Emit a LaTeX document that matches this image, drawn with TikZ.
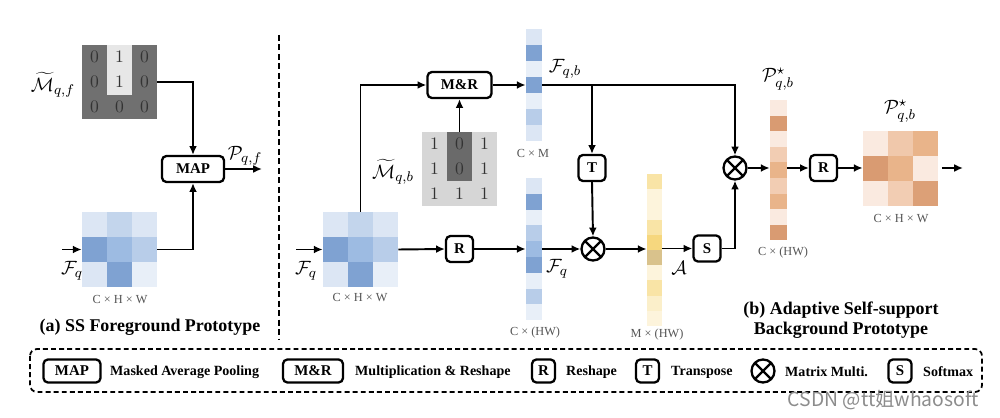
\documentclass[tikz,border=0pt]{standalone}
\usepackage{fontspec}
\setmainfont{Liberation Serif}
\newfontfamily\cjkfont{Noto Sans CJK SC}
\usetikzlibrary{arrows.meta,calc}
\definecolor{bluea}{HTML}{DCE6F4}
\definecolor{blueb}{HTML}{C3D5EC}
\definecolor{bluec}{HTML}{7FA2D2}
\definecolor{blued}{HTML}{9DBBE2}
\definecolor{bluee}{HTML}{B8CDE9}
\definecolor{bluef}{HTML}{E8EFF8}
\definecolor{yela}{HTML}{FDF4DC}
\definecolor{yelb}{HTML}{F9E4A6}
\definecolor{yelc}{HTML}{F6D77E}
\definecolor{yeld}{HTML}{D9C28C}
\definecolor{orga}{HTML}{FAEAE0}
\definecolor{orgb}{HTML}{F2CDB3}
\definecolor{orgc}{HTML}{E9B48A}
\definecolor{orgd}{HTML}{D99B72}
\definecolor{maskdark}{HTML}{707070}
\definecolor{masklight}{HTML}{D6D6D6}
\definecolor{dimtext}{HTML}{555555}
\begin{document}
\begin{tikzpicture}[x=0.02cm,y=-0.02cm]
			\tikzstyle{wire}=[line width=1.1pt]
			\tikzstyle{arr}=[line width=1.1pt,-{Latex[length=5pt,width=4.5pt]}]
			\tikzstyle{op}=[draw,line width=1.3pt,rounded corners=2.5pt,inner sep=1pt,minimum height=5.2mm,font=\bfseries\fontsize{8.5}{9}\selectfont]
			\tikzstyle{small op}=[op,minimum width=5.4mm]
			\tikzstyle{mult}=[circle,draw,line width=1.3pt,minimum size=4.6mm,inner sep=0pt,path picture={\draw[line width=1.3pt] (path picture bounding box.north west) -- (path picture bounding box.south east) (path picture bounding box.north east) -- (path picture bounding box.south west);}]
			\tikzstyle{block}=[inner sep=0pt]
			\tikzstyle{digit}=[text=black!80,font=\fontsize{10}{10}\selectfont]
			\tikzstyle{sym}=[font=\fontsize{11}{12}\selectfont]
			\tikzstyle{dim}=[text=dimtext,font=\fontsize{7}{8}\selectfont]
			\tikzstyle{title}=[align=center,font=\bfseries\fontsize{10.2}{11.5}\selectfont]
			\tikzstyle{legend text}=[anchor=west,font=\bfseries\fontsize{8}{9}\selectfont]
			\useasboundingbox (0,0) rectangle (1000,418);
			
			% (a) foreground prototype
			\fill[maskdark] (82,45) rectangle ++(75,74);
			\fill[masklight!60!white] (107,45) rectangle ++(25,50);
			\foreach \v [count=\i from 0] in {0,1,0,0,1,0,0,0,0}
				\node[digit] (mf\i) at ({94.5+25*mod(\i,3)},{57+24.7*int(\i/3)}) {$\v$};
			\node[block,minimum width=15mm,minimum height=14.8mm] (mqf) at (119.5,82) {};
			\node[sym] (lmqf) at (53,85) {$\widetilde{\mathcal{M}}_{q,f}$};
			\foreach \c [count=\i from 0] in {bluea,blueb,bluea,bluec,blued,bluee,bluea,bluec,bluef}
				\fill[\c] ({82+25*mod(\i,3)},{212+25*int(\i/3)}) rectangle ++(25,25);
			\node[block,minimum size=15mm] (fqa) at (119.5,249.5) {};
			\node[sym] (lfqa) at (72,271) {$\mathcal{F}_q$};
			\node[dim] (dfqa) at (120,300) {C × H × W};
			\node[op,minimum width=12.4mm] (map) at (193,169) {MAP};
			\coordinate (ina) at (62,249.5);
			\coordinate (outa) at (262,169);
			\node[sym] (lpqf) at (245,156) {$\mathcal{P}_{q,f}$};
			\draw[arr] (ina) -- (fqa.west);
			\draw[arr] (mqf.east) -| (map.north);
			\draw[arr] (fqa.east) -| (map.south);
			\draw[arr] (map.east) -- (outa);
			\node[title] (ta) at (150,327) {(a) SS Foreground Prototype};
			
			\draw[line width=1.6pt,dash pattern=on 3.4pt off 2pt] (279,35) -- (279,340);
			
			% (b) background prototype
			\foreach \c [count=\i from 0] in {bluea,blueb,bluea,bluec,blued,bluee,bluea,bluec,bluef}
				\fill[\c] ({323+25*mod(\i,3)},{212+25*int(\i/3)}) rectangle ++(25,25);
			\node[block,minimum size=15mm] (fqb) at (360.5,249.5) {};
			\node[sym] (lfqb) at (306,271) {$\mathcal{F}_q$};
			\node[dim] (dfqb) at (360,298) {C × H × W};
			\coordinate (inb) at (296,249.5);
			\fill[masklight] (422,132) rectangle ++(75,74);
			\fill[maskdark!95!black] (447,132) rectangle ++(25,49);
			\foreach \v [count=\i from 0] in {1,0,1,1,0,1,1,1,1}
				\node[digit] (mb\i) at ({434.5+25*mod(\i,3)},{144+24.7*int(\i/3)}) {$\v$};
			\node[block,minimum width=15mm,minimum height=14.8mm] (mqb) at (459.5,169) {};
			\node[sym] (lmqb) at (393,172) {$\widetilde{\mathcal{M}}_{q,b}$};
			\node[op,minimum width=12.8mm] (mr) at (459.5,85) {M\&R};
			\foreach \c [count=\i from 0] in {bluea,bluec,bluef,bluec,bluef,bluee,bluea}
				\fill[\c] (526,{29+16*\i}) rectangle ++(16,16);
			\node[block,minimum width=3.2mm,minimum height=22.4mm] (fbcol) at (534,85) {};
			\node[sym] (lfbcol) at (565,69) {$\mathcal{F}_{q,b}$};
			\node[dim] (dfbcol) at (533,153) {C × M};
			\node[small op] (ra) at (459.5,249) {R};
			\foreach \c [count=\i from 0] in {bluea,bluec,bluef,bluee,blued,bluec,bluef,bluee,bluef}
				\fill[\c] (526,{178+15.8*\i}) rectangle ++(16,15.8);
			\node[block,minimum width=3.2mm,minimum height=28.4mm] (fqcol) at (534,249.1) {};
			\node[sym] (lfqcol) at (557,269) {$\mathcal{F}_q$};
			\node[dim] (dfqcol) at (535,333) {C × (HW)};
			\node[small op] (tr) at (592,168) {T};
			\node[mult] (mula) at (593,249) {};
			\foreach \c [count=\i from 0] in {yelb,yela,yela,yelb,yelc,yeld,yela,yelb,yelb!60!white,yela}
				\fill[\c] (647,{174+15.2*\i}) rectangle ++(15,15.2);
			\node[block,minimum width=3mm,minimum height=30.4mm] (acol) at (654.5,250) {};
			\node[sym] (lacol) at (679,268) {$\mathcal{A}$};
			\node[dim] (dacol) at (657,335) {M × (HW)};
			\node[small op] (sm) at (707,248.5) {S};
			\node[mult] (mulb) at (735,168) {};
			\foreach \c [count=\i from 0] in {orga,orgd,orga,orgb,orgc,orgb,orgc,orga,orgd}
				\fill[\c] (770,{100+15.6*\i}) rectangle ++(17,15.6);
			\node[block,minimum width=3.4mm,minimum height=28mm] (pcol) at (778.5,170) {};
			\node[sym] (lpcol) at (778,79) {$\mathcal{P}^{\star}_{q,b}$};
			\node[dim] (dpcol) at (783,253) {C × (HW)};
			\node[small op] (rb) at (823.5,168) {R};
			\foreach \c [count=\i from 0] in {orga,orgb!80!orgc,orgc,orgd,orgc,orga,orga,orgb,orgd!80!orgc}
				\fill[\c] ({863+25*mod(\i,3)},{131+25*int(\i/3)}) rectangle ++(25,25);
			\node[block,minimum size=15mm] (pgrid) at (900.5,168.5) {};
			\node[sym] (lpgrid) at (900,111) {$\mathcal{P}^{\star}_{q,b}$};
			\node[dim] (dpgrid) at (901,219) {C × H × W};
			\coordinate (outb) at (963,168);
			\coordinate (split) at (tr |- fbcol.east);
			\draw[arr] (inb) -- (fqb.west);
			\draw[arr] (fqb.north) |- (mr.west);
			\draw[arr] (mqb.north) -- (mr.south);
			\draw[arr] (mr.east) -- (fbcol.west);
			\draw[arr] (fbcol.east) -| (mulb.north);
			\draw[arr] (split) -- (tr.north);
			\draw[arr] (fqb.east) -- (ra.west);
			\draw[arr] (ra.east) -- (ra.east -| fqcol.west);
			\draw[arr] (fqcol.east |- mula.west) -- (mula.west);
			\draw[arr] (tr.south) -- (mula.north);
			\draw[arr] (mula.east) -- (mula.east -| acol.west);
			\draw[arr] (acol.east |- sm.west) -- (sm.west);
			\draw[arr] (sm.east) -| (mulb.south);
			\draw[arr] (mulb.east) -- (mulb.east -| pcol.west);
			\draw[arr] (pcol.east |- rb.west) -- (rb.west);
			\draw[arr] (rb.east) -- (rb.east -| pgrid.west);
			\draw[arr,shorten <=2pt] (pgrid.east |- outb) -- (outb);
			\node[title] (tb) at (841,320) {(b) Adaptive Self-support\\Background Prototype};
			
			% legend
			\draw[line width=1pt,dash pattern=on 2.8pt off 1.8pt,rounded corners=4pt] (30,349) rectangle (982,392);
			\node[op,minimum width=11.4mm,minimum height=4.6mm] (kmap) at (72,371) {MAP};
			\node[legend text] (kmapt) at (104,372) {Masked Average Pooling};
			\node[op,minimum width=12mm,minimum height=4.6mm] (kmr) at (313,371) {M\&R};
			\node[legend text] (kmrt) at (349,372) {Multiplication \& Reshape};
			\node[small op,minimum height=4.6mm,minimum width=4.6mm] (kr) at (543.5,371) {R};
			\node[legend text] (krt) at (560,372) {Reshape};
			\node[small op,minimum height=4.6mm,minimum width=4.6mm] (kt) at (647.5,371) {T};
			\node[legend text] (ktt) at (665,372) {Transpose};
			\node[mult] (kmul) at (763,371) {};
			\node[legend text] (kmult) at (779,372) {Matrix Multi.};
			\node[small op,minimum height=4.6mm,minimum width=4.6mm] (ks) at (900,371) {S};
			\node[legend text] (kst) at (917,372) {Softmax};
			\node[anchor=east,text=black!45,font=\cjkfont\fontsize{11}{12}\selectfont] (wm) at (985,400) {CSDN @tt姐whaosoft};
\end{tikzpicture}
\end{document}
